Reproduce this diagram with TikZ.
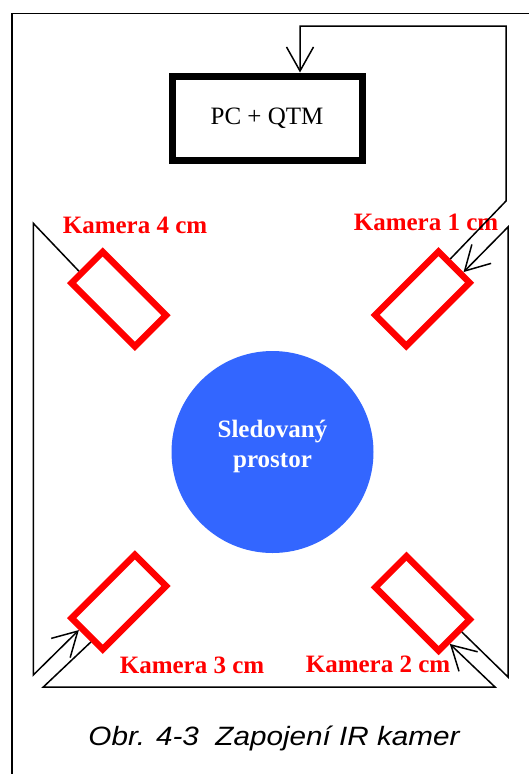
\documentclass[tikz,border=0pt]{standalone}
\usepackage{graphicx}
\usepackage{fontspec}
\setmainfont{Liberation Serif}
\newfontfamily\capfont{Liberation Sans}
\usetikzlibrary{arrows.meta,calc}

\definecolor{camred}{RGB}{255,0,0}
\definecolor{zoneblue}{RGB}{51,102,255}

\begin{document}
\begin{tikzpicture}[x=1pt,y=-1pt,
  frame/.style={line width=1.4pt},
  wire/.style={line width=1.5pt, line join=miter},
  tip/.style={-{Straight Barb[length=24pt,width=27pt]}},
  pcbox/.style={draw, line width=7pt, minimum width=190pt, minimum height=84pt,
    inner sep=0pt, font=\fontsize{25}{30}\selectfont},
  camera/.style={rectangle, draw=camred, line width=6.5pt, minimum width=89.5pt,
    minimum height=44pt, inner sep=0pt},
  camlabel/.style={text=camred, font=\bfseries\fontsize{25}{30}\selectfont,
    anchor=base, inner sep=0pt},
  zone/.style={circle, fill=zoneblue, minimum size=202pt, inner sep=0pt},
  zonetext/.style={text=white, align=center, inner sep=0pt,
    font=\bfseries\fontsize{25}{30.5}\selectfont},
  caption/.style={anchor=base, inner sep=0pt,
    font=\capfont\itshape\fontsize{26.5}{30}\selectfont}
  ]
\useasboundingbox (0,0) rectangle (529,774);
\fill[white] (0,0) rectangle (529,774);

% page frame (left and top edges)
\draw[frame] (12,790) -- (12,13.3) -- (545,13.3);

% computer
\node[pcbox] (pc) at (267,118) {PC + QTM};

% observed space
\node[zone] (zone) at (272.5,452) {};
\node[zonetext] (zonelabel) at ($(zone)+(0,-5.5)$) {Sledovaný\\prostor};

% cameras
\node[camera, rotate=45]  (cam1) at (422.4,298.8) {};
\node[camera, rotate=-45] (cam2) at (422.5,603.4) {};
\node[camera, rotate=45]  (cam3) at (118.8,602.1) {};
\node[camera, rotate=-45] (cam4) at (118.8,299.1) {};

\node[camlabel] (lab1) at (426,230) {Kamera 1 cm};
\node[camlabel] (lab2) at (378,672) {Kamera 2 cm};
\node[camlabel] (lab3) at (192,673) {Kamera 3 cm};
\node[camlabel] (lab4) at (135,233) {Kamera 4 cm};

% bends of the cabling
\coordinate (w1a) at (506,201);
\coordinate (w1b) at (506,26);
\coordinate (w1c) at (300,26);
\coordinate (w2a) at (508,677);
\coordinate (w2b) at (508,227);
\coordinate (w3a) at (43.3,687);
\coordinate (w3b) at (495,687);
\coordinate (w4a) at (33.3,223.3);
\coordinate (w4b) at (33.3,675);

% cabling: camera 4 -> 3 -> 2 -> 1 -> PC
\draw[wire,tip] (cam4.190) -- (w4a) -- (w4b) -- (cam3.170);
\draw[wire,tip] (cam3.190) -- (w3a) -- (w3b) -- (cam2.349);
\draw[wire,tip] (cam2.9) -- (w2a) -- (w2b) -- (cam1.348);
\draw[wire,tip] (cam1.10) -- (w1a) -- (w1b) -- (w1c) -- (w1c |- pc.north);

% caption
\node[caption] (cap) at (274,745) {\scalebox{1.12}[1]{Obr. 4-3\ \ Zapojení IR kamer}};
\end{tikzpicture}
\end{document}
